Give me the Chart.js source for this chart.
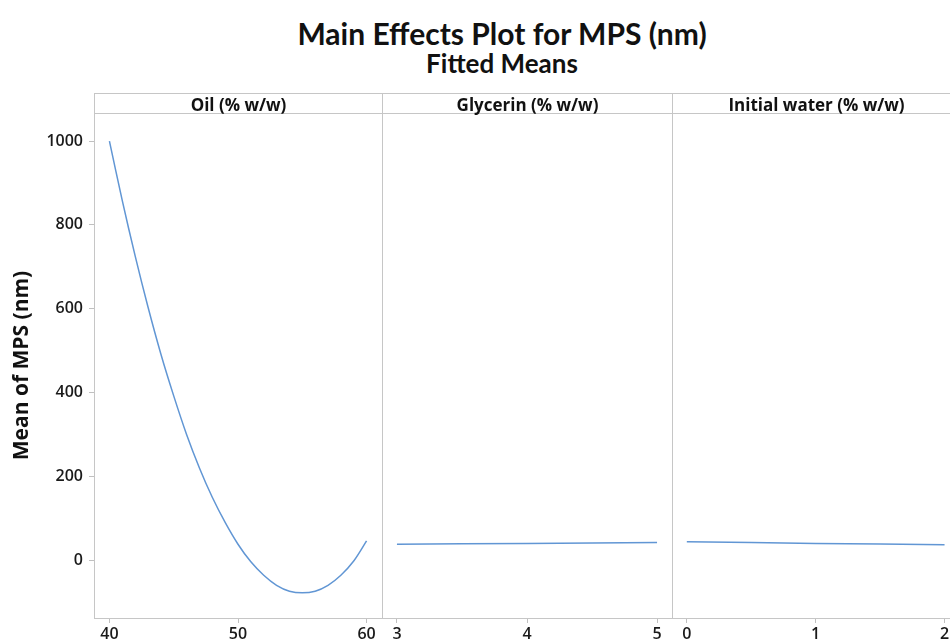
<!DOCTYPE html>
<html>
<head>
<meta charset="utf-8">
<script src="https://cdn.jsdelivr.net/npm/chart.js@4.4.1/dist/chart.umd.min.js"></script>
<style>
  html, body { margin: 0; padding: 0; background: #fff; }
  body { width: 950px; height: 643px; overflow: hidden; position: relative;
         font-family: Lato, "Open Sans", sans-serif; color: #111; }
  #title { position: absolute; left: 94px; width: 816px; top: 18px; text-align: center;
           font-weight: 700; font-size: 30px; line-height: 30px; }
  #subtitle { position: absolute; left: 94px; width: 816px; top: 50px; text-align: center;
              font-weight: 700; font-size: 26px; line-height: 26px; }
  canvas { position: absolute; }
  .frame { position: absolute; top: 93px; height: 526px; box-sizing: border-box;
           border: 1px solid #c6c6c6; pointer-events: none; }
  .strip { position: absolute; left: 0; right: 0; top: 0; height: 20px; box-sizing: border-box;
           border-bottom: 1px solid #c6c6c6; text-align: center; padding-top: 1px;
           font-family: "Open Sans", sans-serif; font-weight: 700; font-size: 17px; line-height: 19px; }
</style>
</head>
<body>
<div id="title">Main Effects Plot for MPS (nm)</div>
<div id="subtitle">Fitted Means</div>

<canvas id="c1" width="382" height="550" style="left:0;top:93px"></canvas>
<canvas id="c2" width="290" height="550" style="left:382px;top:93px"></canvas>
<canvas id="c3" width="288" height="550" style="left:672px;top:93px"></canvas>

<div class="frame" style="left:94px;width:289px"><div class="strip" id="h1"></div></div>
<div class="frame" style="left:382px;width:291px"><div class="strip" id="h2"></div></div>
<div class="frame" style="left:672px;width:289px"><div class="strip" id="h3"></div></div>

<script>
/* fitted means */
var factorNames = ['Oil (% w/w)', 'Glycerin (% w/w)', 'Initial water (% w/w)'];

var oilLevels = [40, 41, 42, 43, 44, 45, 46, 47, 48, 49, 50, 51, 52, 53, 54, 55, 56, 57, 58, 59, 60];
var oilMPS    = [1000, 858, 726, 604, 492, 392, 300, 220, 150, 90, 38, -4, -36, -60, -74, -78, -74, -60, -36, -2, 46];

var glycerinLevels = [3, 4, 5];
var glycerinMPS    = [38, 40, 42];

var waterLevels = [0, 1, 2];
var waterMPS    = [44, 40, 37];

var oilTicks = [40, 50, 60];
var glycerinTicks = [3, 4, 5];
var waterTicks = [0, 1, 2];
var yTicks = [0, 200, 400, 600, 800, 1000];

var Y_MIN = -138, Y_MAX = 1067;
var LINE = '#6196d4';
var FRAME = '#c0c0c0';
var TICK_FONT = { family: '"Open Sans", sans-serif', size: 16, weight: '600' };

function plain(v) { return String(v); }

function panel(id, xs, ys, xMin, xMax, xTicks, showY) {
  return new Chart(document.getElementById(id), {
    type: 'line',
    data: { datasets: [{
      data: xs.map(function (x, i) { return { x: x, y: ys[i] }; }),
      borderColor: LINE, borderWidth: 1.5, pointRadius: 0,
      tension: 0.35, fill: false
    }]},
    options: {
      responsive: false, animation: false,
      // top 20px is left for the factor strip drawn over the canvas
      layout: { padding: { top: 20, left: 0, right: 0, bottom: 0 } },
      plugins: { legend: { display: false }, tooltip: { enabled: false } },
      scales: {
        x: {
          type: 'linear', min: xMin, max: xMax,
          afterBuildTicks: function (s) { s.ticks = xTicks.map(function (v) { return { value: v }; }); },
          afterFit: function (s) { s.height = 25; },
          grid: { display: true, drawOnChartArea: false, drawTicks: true, tickLength: 5, color: FRAME },
          border: { display: false },
          ticks: { color: '#1a1a1a', font: TICK_FONT, padding: 2, maxRotation: 0, autoSkip: false, callback: plain }
        },
        y: {
          display: showY, min: Y_MIN, max: Y_MAX,
          afterBuildTicks: function (s) { s.ticks = yTicks.map(function (v) { return { value: v }; }); },
          afterFit: function (s) { if (showY) s.width = 94; },
          grid: { display: true, drawOnChartArea: false, drawTicks: true, tickLength: 5, color: FRAME },
          border: { display: false },
          ticks: { color: '#1a1a1a', font: TICK_FONT, padding: 6, callback: plain },
          title: { display: true, text: 'Mean of MPS (nm)', color: '#111',
                   font: { family: '"Open Sans", sans-serif', size: 21, weight: '700' },
                   padding: { top: 9, bottom: 0 } }
        }
      }
    }
  });
}

document.getElementById('h1').textContent = factorNames[0];
document.getElementById('h2').textContent = factorNames[1];
document.getElementById('h3').textContent = factorNames[2];

panel('c1', oilLevels, oilMPS, 38.8, 61.2, oilTicks, true);
panel('c2', glycerinLevels, glycerinMPS, 2.885, 5.115, glycerinTicks, false);
panel('c3', waterLevels, waterMPS, -0.115, 2.12, waterTicks, false);
</script>
</body>
</html>
